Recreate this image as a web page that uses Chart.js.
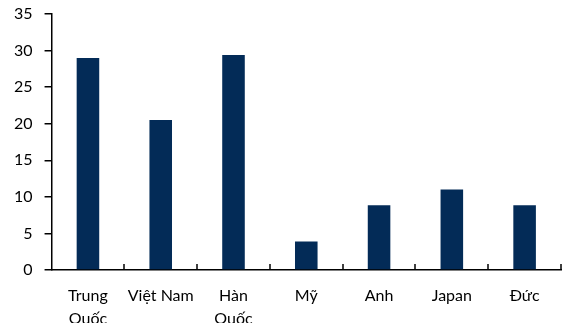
<!DOCTYPE html>
<html>
<head>
<meta charset="utf-8">
<script src="https://cdn.jsdelivr.net/npm/chart.js@4/dist/chart.umd.min.js"></script>
<style>
  html, body { margin: 0; padding: 0; background: #fff; }
  #wrap { width: 565px; height: 323px; }
</style>
</head>
<body>
<div id="wrap"><canvas id="barChart"></canvas></div>
<script>
const countries = [['Trung', 'Quốc'], 'Việt Nam', ['Hàn', 'Quốc'], 'Mỹ', 'Anh', 'Japan', 'Đức']
const values = [29, 20.5, 29.4, 3.9, 8.85, 11, 8.85]
const yTicks = [0, 5, 10, 15, 20, 25, 30, 35]

// short tick marks pointing up from the category axis, at each category boundary
const upTicks = {
    id: 'upTicks',
    afterDraw(chart) {
        const x = chart.scales.x
        const ctx = chart.ctx
        const n = chart.data.labels.length
        const step = x.getPixelForValue(1) - x.getPixelForValue(0)
        ctx.save()
        ctx.strokeStyle = '#000'
        ctx.lineWidth = 1.5
        for (let i = 1; i <= n; i++) {
            const px = Math.round(x.getPixelForValue(i) - step / 2)
            ctx.beginPath()
            ctx.moveTo(px, x.top)
            ctx.lineTo(px, x.top - 6)
            ctx.stroke()
        }
        ctx.restore()
    }
}

const context = document.getElementById('barChart').getContext('2d')
new Chart(context, {
    type: 'bar',
    data: {
        labels: countries,
        datasets: [{
            data: values,
            backgroundColor: '#032B57',
            barPercentage: 0.31,
            categoryPercentage: 1
        }]
    },
    options: {
        responsive: true,
        maintainAspectRatio: false,
        animation: false,
        layout: { padding: { top: 0, right: 4, left: 2, bottom: 0 } },
        plugins: {
            legend: { display: false },
            tooltip: { enabled: false }
        },
        scales: {
            x: {
                grid: { display: false },
                border: { color: '#000', width: 1.5 },
                // second label line runs off the bottom edge
                afterFit(scale) {
                    scale.height = 53
                },
                ticks: {
                    color: '#000',
                    font: { family: 'Lato', size: 16, lineHeight: 1.4 },
                    maxRotation: 0,
                    autoSkip: false,
                    padding: 7
                }
            },
            y: {
                min: 0,
                max: 35,
                afterBuildTicks(scale) {
                    scale.ticks = yTicks.map(v => ({ value: v }))
                },
                // tick padding would otherwise push the top of the axis down
                afterFit(scale) {
                    scale.paddingTop = 14
                },
                grid: {
                    drawOnChartArea: false,
                    drawTicks: true,
                    tickLength: 7,
                    color: '#000',
                    lineWidth: 1.5
                },
                border: { color: '#000', width: 1.5 },
                ticks: {
                    color: '#000',
                    font: { family: 'Lato', size: 16 },
                    padding: 12
                }
            }
        }
    },
    plugins: [upTicks]
})
</script>
</body>
</html>
